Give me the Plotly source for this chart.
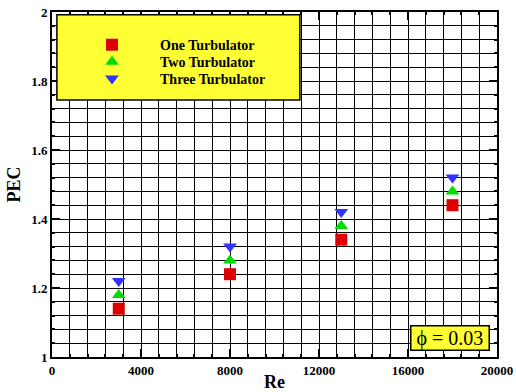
import plotly.graph_objects as go

re_vals = [3000, 8000, 13000, 18000]
pec_one = [1.14, 1.24, 1.34, 1.44]
pec_two = [1.18, 1.28, 1.38, 1.48]
pec_three = [1.22, 1.32, 1.42, 1.52]
names = ["One Turbulator", "Two Turbulator", "Three Turbulator"]
colors = ["#dd0000", "#00dd00", "#3333ff"]
symbols = ["square", "triangle-up", "triangle-down"]
legend_ids = ["legend", "legend2", "legend3"]
legend_ys = [0.904, 0.855, 0.806]

font_b = "Liberation Serif"

fig = go.Figure()
for name, vals, c, s, lg in zip(names, [pec_one, pec_two, pec_three], colors, symbols, legend_ids):
    fig.add_trace(go.Scatter(x=re_vals, y=vals, mode="markers", name=name, legend=lg,
                             marker=dict(symbol=s, color=c, size=12, line=dict(width=0))))

axis_common = dict(
    showline=True, linecolor="black", linewidth=2, mirror="allticks",
    ticks="inside", tickcolor="black", tickwidth=2, ticklen=8,
    showgrid=True, gridcolor="black", gridwidth=1, zeroline=False, automargin=False,
    tickfont=dict(family=font_b, size=13, color="black", weight="bold"),
)
fig.update_xaxes(range=[0, 20000], dtick=4000, tick0=0, tickformat="d",
                 minor=dict(dtick=800, showgrid=True, gridcolor="black", gridwidth=1,
                            ticks="inside", ticklen=3, tickcolor="black"),
                 title=dict(text="Re", font=dict(family=font_b, size=18, color="black", weight="bold"), standoff=2),
                 **axis_common)
fig.update_yaxes(range=[1, 2], dtick=0.2, tick0=1,
                 minor=dict(dtick=0.04, showgrid=True, gridcolor="black", gridwidth=1,
                            ticks="inside", ticklen=3, tickcolor="black"),
                 title=dict(text="PEC", font=dict(family=font_b, size=18, color="black", weight="bold"), standoff=6),
                 **axis_common)

fig.add_shape(type="rect", xref="paper", yref="paper", x0=0.011, x1=0.557, y0=0.745, y1=0.992,
              fillcolor="#ffff33", line=dict(color="black", width=1.5), layer="above")

fig.add_annotation(text=" \u03d5 = 0.03 ", xref="paper", yref="paper", x=0.985, y=0.017,
                   xanchor="right", yanchor="bottom", showarrow=False,
                   font=dict(family=font_b, size=20, color="black"),
                   bgcolor="#ffff33", bordercolor="black", borderwidth=1.5, borderpad=0)

leg_common = dict(x=0.027, xanchor="left", yanchor="middle",
                  bgcolor="rgba(0,0,0,0)", borderwidth=0,
                  font=dict(family=font_b, size=14, color="black", weight="bold"),
                  itemwidth=86)
layout_legs = {lg: dict(y=ly, **leg_common) for lg, ly in zip(legend_ids, legend_ys)}

fig.update_layout(
    width=516, height=392,
    margin=dict(l=52, r=19, t=12, b=35),
    paper_bgcolor="white", plot_bgcolor="white",
    showlegend=True,
    **layout_legs,
)

fig.write_html("out.html")
